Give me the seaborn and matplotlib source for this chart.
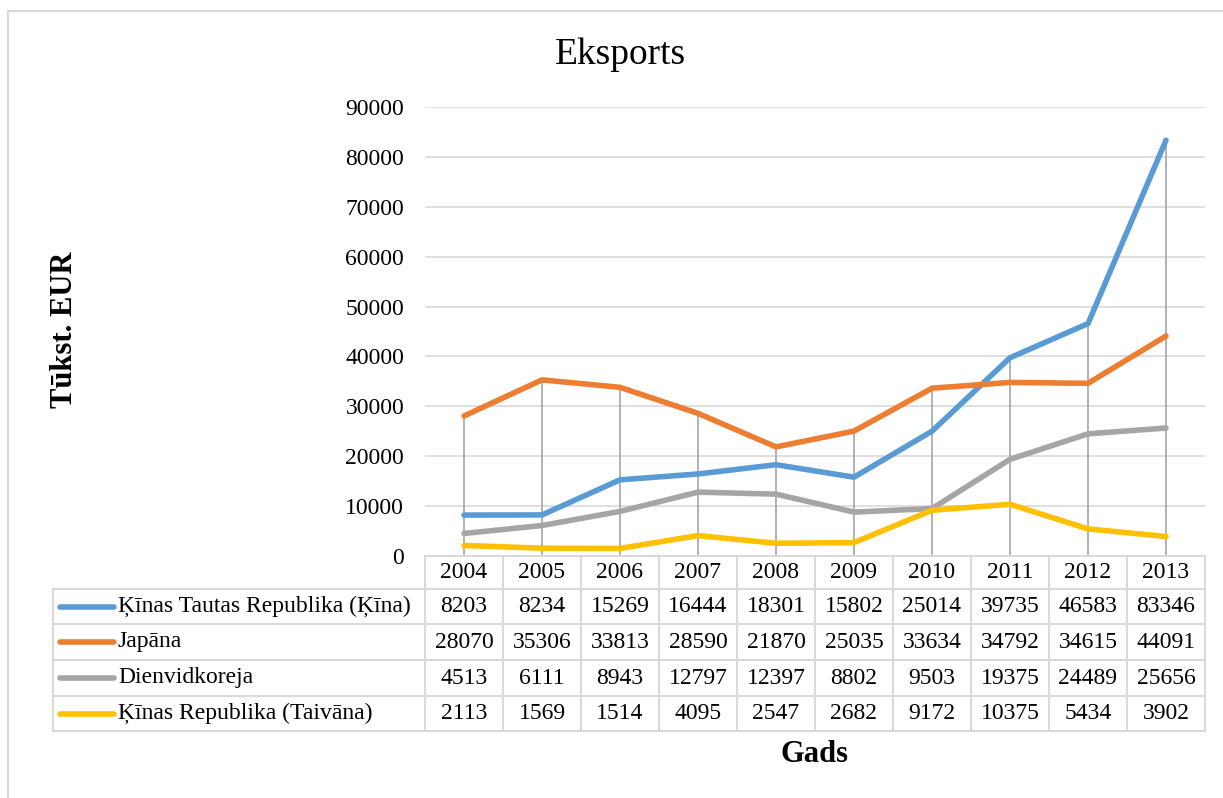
import pandas as pd
import matplotlib.pyplot as plt
import matplotlib.transforms as mtransforms
import seaborn as sns

years = [2004, 2005, 2006, 2007, 2008, 2009, 2010, 2011, 2012, 2013]
series_names = ["Ķīnas Tautas Republika (Ķīna)", "Japāna", "Dienvidkoreja", "Ķīnas Republika (Taivāna)"]
china = [8203, 8234, 15269, 16444, 18301, 15802, 25014, 39735, 46583, 83346]
japan = [28070, 35306, 33813, 28590, 21870, 25035, 33634, 34792, 34615, 44091]
korea = [4513, 6111, 8943, 12797, 12397, 8802, 9503, 19375, 24489, 25656]
taiwan = [2113, 1569, 1514, 4095, 2547, 2682, 9172, 10375, 5434, 3902]
colors = ["#5B9BD5", "#ED7D31", "#A5A5A5", "#FFC000"]

values = [china, japan, korea, taiwan]
df = pd.DataFrame({
    "Gads": years * len(series_names),
    "Valsts": [n for n in series_names for _ in years],
    "Vertiba": [v for s in values for v in s],
})

sns.set_theme(style="white")
plt.rcParams["font.family"] = ["Liberation Serif", "DejaVu Serif"]
plt.rcParams["text.color"] = "black"
plt.rcParams["ytick.color"] = "black"

W, H = 1223, 798
fig = plt.figure(figsize=(W / 100, H / 100), dpi=100)

def fx(px):
    return px / W

def fy(py):
    return 1 - py / H

ax_left, ax_right, ax_top, ax_bottom = 425, 1205, 107, 556
ax = fig.add_axes([fx(ax_left), fy(ax_bottom), fx(ax_right - ax_left), (ax_bottom - ax_top) / H])

fs = 17

# drop lines from the highest value down to the axis
top = df.groupby("Gads")["Vertiba"].max()
ax.vlines(top.index, 0, top.values, color="#A6A6A6", lw=1.2, zorder=1)

sns.lineplot(data=df, x="Gads", y="Vertiba", hue="Valsts", palette=colors,
             hue_order=series_names, linewidth=4, legend=False, ax=ax,
             zorder=3, solid_capstyle="round")

ax.set_xlim(years[0] - 0.5, years[-1] + 0.5)
ax.set_ylim(0, 90000)
ax.set_yticks(range(0, 90001, 10000))
ax.set_yticklabels([str(v) for v in range(0, 90001, 10000)], fontsize=fs)
ax.set_xticks([])
ax.tick_params(axis="y", length=0, pad=15)
ax.yaxis.grid(True, color="#D9D9D9", lw=1.2)
ax.set_axisbelow(True)
for s in ax.spines.values():
    s.set_visible(False)
ax.set_xlabel("")
ax.set_ylabel("")

# data table under the plot
grid_c = "#D9D9D9"
rows_px = [556, 589, 624, 660, 696, 731]
label_left = 53
trans = mtransforms.blended_transform_factory(ax.transData, fig.transFigure)
col_edges = [y - 0.5 for y in years] + [years[-1] + 0.5]

for i, ypx in enumerate(rows_px):
    if i == 0:
        fig.add_artist(plt.Line2D([fx(ax_left), fx(ax_right)], [fy(ypx)] * 2, color=grid_c, lw=1.5))
    else:
        fig.add_artist(plt.Line2D([fx(label_left), fx(ax_right)], [fy(ypx)] * 2, color=grid_c, lw=1.5))
fig.add_artist(plt.Line2D([fx(label_left)] * 2, [fy(rows_px[1]), fy(rows_px[-1])], color=grid_c, lw=1.5))
for xe in col_edges:
    ax.plot([xe, xe], [fy(rows_px[0]), fy(rows_px[-1])], transform=trans, color=grid_c,
            lw=1.5, clip_on=False)

yc = (fy(rows_px[0]) + fy(rows_px[1])) / 2
for yr in years:
    ax.text(yr, yc, str(yr), transform=trans, ha="center", va="center", fontsize=fs)

for r, (name, vals, c) in enumerate(zip(series_names, values, colors)):
    yc = (fy(rows_px[r + 1]) + fy(rows_px[r + 2])) / 2
    fig.add_artist(plt.Line2D([fx(60), fx(114)], [yc, yc], color=c, lw=4, solid_capstyle="round"))
    fig.text(fx(118), yc, name, ha="left", va="center", fontsize=fs)
    for yr, v in zip(years, vals):
        ax.text(yr, yc, str(v), transform=trans, ha="center", va="center", fontsize=fs)

# titles
fig.text(fx(620), fy(55), "Eksports", ha="center", va="center", fontsize=27)
fig.text(fx(65), fy(330), "Tūkst. EUR", ha="center", va="center", rotation=90,
         fontsize=22, fontweight="bold")
fig.text(fx(815), fy(755), "Gads", ha="center", va="center", fontsize=22, fontweight="bold")

# chart area frame (left and top edges are visible)
fig.add_artist(plt.Line2D([fx(8), fx(8)], [fy(11), 0], color="#D9D9D9", lw=1.5))
fig.add_artist(plt.Line2D([fx(8), 1], [fy(11), fy(11)], color="#D9D9D9", lw=1.5))

fig.savefig("out.png", dpi=100)
